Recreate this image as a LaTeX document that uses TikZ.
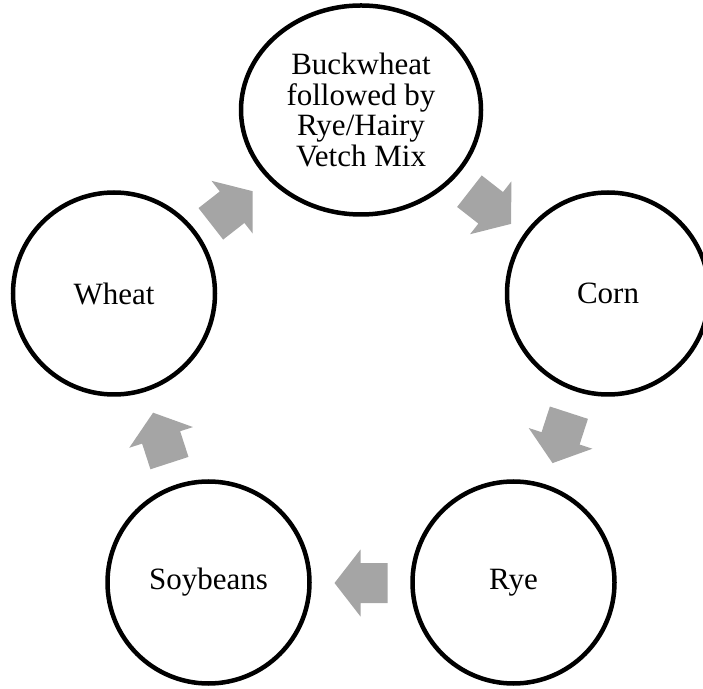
\documentclass[tikz,border=0pt]{standalone}
\usepackage{fontspec}
\setmainfont{Liberation Serif}
\usetikzlibrary{shapes.geometric,calc}
\definecolor{cropgray}{HTML}{A5A5A5}

\begin{document}
\begin{tikzpicture}[x=1pt,y=1pt,
  crop/.style={circle,draw=black,line width=4.5pt,minimum size=202pt,inner sep=0pt,
    font=\fontsize{31}{30.7}\selectfont,align=center}]
  \useasboundingbox (0,0) rectangle (703,688);
  \clip (0,0) rectangle (703,688);
  \coordinate (hub) at (361,315);
  % the five crops of the rotation
  \node[crop,ellipse,minimum width=240pt,minimum height=209pt] (buckwheat) at (361,578)
    {Buckwheat\\followed by\\Rye/Hairy\\Vetch Mix};
  \node[crop] (corn) at (608,394.5) {Corn};
  \node[crop] (rye) at (513.5,105.5) {Rye};
  \node[crop] (soybeans) at (208.5,105.5) {Soybeans};
  \node[crop] (wheat) at (114,394.5) {Wheat};
  % block arrows between them
  \foreach \pos in {128,52,-18,270,198}
    \fill[cropgray,shift={($(hub)+(\pos:210)$)},rotate=\pos-90]
      (-26.5,-20) -- (0.5,-20) -- (0.5,-33.5) -- (26.5,0) -- (0.5,33.5) -- (0.5,20) -- (-26.5,20) -- cycle;
\end{tikzpicture}
\end{document}
